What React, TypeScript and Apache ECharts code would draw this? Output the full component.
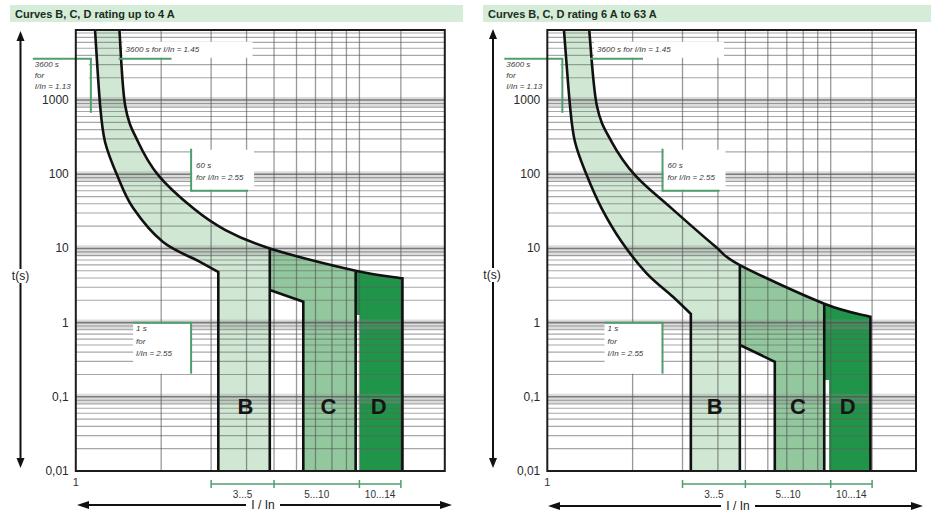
import { useEffect, useRef } from 'react';
import * as echarts from 'echarts';

const X_MIN = 1;
const X_MAX = 20;
const Y_MIN = 0.01;
const Y_MAX = 8800;
const yTickValues = [0.01, 0.1, 1, 10, 100, 1000];
const yTickLabels = ['0,01', '0,1', '1', '10', '100', '1000'];
const xTickLabels = ['1'];
const verticalGridValues = [2, 3, 4, 5, 6, 7, 8, 9, 10, 14];
const decadeValues = [0.01, 0.1, 1, 10, 100, 1000];
const minorSteps = [2, 3, 4, 5, 6, 7, 8, 9];
const regionNames = ['B', 'C', 'D'];
const bracketTicks = [3, 5, 10, 14];
const bracketLabels = ['3...5', '5...10', '10...14'];
const boundaryIndexBC = 6;
const boundaryIndexCD = 7;

// Left panel: rating up to 4 A
const leftTitle = 'Curves B, C, D rating up to 4 A';
const leftLowerCurve = [[1.169, 8800], [1.218, 857], [1.268, 272], [1.398, 97.5], [1.593, 35], [2.03, 12.2], [2.75, 6.56], [3.18, 4.81]];
const leftUpperCurve = [[1.425, 8800], [1.492, 857], [1.659, 272], [1.952, 97.5], [2.59, 35], [3.37, 17.7], [4.83, 10.0], [9.7, 5.0], [14.18, 3.95]];
const leftCNotch = [[4.83, 2.75], [6.34, 1.91]];
const leftDGap = [[9.7, 1.27], [10.04, 1.27]];
const leftLetterPositions = [[3.96, 0.073], [7.78, 0.073], [11.69, 0.073]];

// Right panel: rating 6 A to 63 A
const rightTitle = 'Curves B, C, D rating 6 A to 63 A';
const rightLowerCurve = [[1.145, 8800], [1.202, 857], [1.252, 274], [1.377, 97.5], [1.555, 34.7], [1.829, 12.3], [2.241, 4.62], [2.775, 2.23], [3.21, 1.31]];
const rightUpperCurve = [[1.406, 8800], [1.494, 857], [1.687, 274], [2.038, 97.5], [2.746, 34.7], [3.9, 10.8], [4.78, 5.97], [9.49, 1.8], [13.81, 1.2]];
const rightCNotch = [[4.78, 0.5], [6.35, 0.297]];
const rightDGap = [[9.49, 0.168], [9.87, 0.168]];
const rightLetterPositions = [[3.9, 0.073], [7.66, 0.073], [11.49, 0.073]];

const annotationAnchors = [[1.13, 3600], [1.45, 3600], [2.55, 60], [2.55, 1]];
const annotationTexts = [['3600 s', 'for', 'I/In = 1.13'], ['3600 s for I/In = 1.45'], ['60 s', 'for I/In = 2.55'], ['1 s', 'for', 'I/In = 2.55']];
const annotationLayouts = ['leftBelow1', 'rightAbove', 'rightBox', 'leftBelow2'];

const FONT = '"Liberation Sans", Arial, sans-serif';
const GREEN = '#4f9e6d';
const fillColors = ['#cfe7d3', '#93c89f', '#20954a'];

const panels = [
  { title: leftTitle, lower: leftLowerCurve, upper: leftUpperCurve, notch: leftCNotch, gap: leftDGap, letters: leftLetterPositions, gridLeft: 75.8, gridWidth: 369 },
  { title: rightTitle, lower: rightLowerCurve, upper: rightUpperCurve, notch: rightCNotch, gap: rightDGap, letters: rightLetterPositions, gridLeft: 547.3, gridWidth: 368.7 },
];

function segs(P: number[][]) {
  const out: number[][] = [];
  for (let i = 0; i < P.length - 1; i++) {
    const p0 = P[i - 1] || P[i];
    const p1 = P[i];
    const p2 = P[i + 1];
    const p3 = P[i + 2] || P[i + 1];
    out.push([p1[0] + (p2[0] - p0[0]) / 6, p1[1] + (p2[1] - p0[1]) / 6, p2[0] - (p3[0] - p1[0]) / 6, p2[1] - (p3[1] - p1[1]) / 6]);
  }
  return out;
}
function fwd(P: number[][], S: number[][], a: number, b: number) {
  let d = '';
  for (let i = a; i < b; i++) d += `C${S[i][0]},${S[i][1]} ${S[i][2]},${S[i][3]} ${P[i + 1][0]},${P[i + 1][1]} `;
  return d;
}
function bwd(P: number[][], S: number[][], a: number, b: number) {
  let d = '';
  for (let i = b - 1; i >= a; i--) d += `C${S[i][2]},${S[i][3]} ${S[i][0]},${S[i][1]} ${P[i][0]},${P[i][1]} `;
  return d;
}
const pt = (p: number[]) => `${p[0]},${p[1]}`;

function panelGeometry(api: any, p: any) {
  const L = p.lower.map((q: number[]) => api.coord(q));
  const U = p.upper.map((q: number[]) => api.coord(q));
  const SL = segs(L);
  const SU = segs(U);
  const bottom = api.coord([X_MIN, Y_MIN])[1];
  const N = p.notch.map((q: number[]) => api.coord(q));
  const G = p.gap.map((q: number[]) => api.coord(q));
  return { L, U, SL, SU, bottom, N, G };
}

function regionPath(api: any, p: any, idx: number) {
  const { L, U, SL, SU, bottom, N, G } = panelGeometry(api, p);
  const nL = L.length;
  const nU = U.length;
  if (idx === 0) {
    return `M${pt(L[0])} ${fwd(L, SL, 0, nL - 1)}L${L[nL - 1][0]},${bottom} L${U[boundaryIndexBC][0]},${bottom} L${pt(U[boundaryIndexBC])} ${bwd(U, SU, 0, boundaryIndexBC)}Z`;
  }
  if (idx === 1) {
    return `M${pt(U[boundaryIndexBC])} ${fwd(U, SU, boundaryIndexBC, boundaryIndexCD)}L${U[boundaryIndexCD][0]},${bottom} L${N[1][0]},${bottom} L${pt(N[1])} L${pt(N[0])} Z`;
  }
  return `M${pt(U[boundaryIndexCD])} ${fwd(U, SU, boundaryIndexCD, nU - 1)}L${U[nU - 1][0]},${bottom} L${G[1][0]},${bottom} L${pt(G[1])} L${pt(G[0])} Z`;
}

function outlinePath(api: any, p: any) {
  const { L, U, SL, SU, bottom, N } = panelGeometry(api, p);
  const nL = L.length;
  const nU = U.length;
  let d = `M${pt(L[0])} ${fwd(L, SL, 0, nL - 1)}L${L[nL - 1][0]},${bottom} `;
  d += `M${pt(U[0])} ${fwd(U, SU, 0, nU - 1)}L${U[nU - 1][0]},${bottom} `;
  d += `M${pt(U[boundaryIndexBC])} L${U[boundaryIndexBC][0]},${bottom} `;
  d += `M${pt(N[0])} L${pt(N[1])} L${N[1][0]},${bottom} `;
  d += `M${pt(U[boundaryIndexCD])} L${U[boundaryIndexCD][0]},${bottom}`;
  return d;
}

function txt(s: string, x: number, y: number) {
  return {
    type: 'text', x, y,
    style: { text: s, fill: '#3a3a3a', fontSize: 8, fontStyle: 'italic', fontFamily: FONT, align: 'left', verticalAlign: 'middle' },
  };
}
function gLine(x1: number, y1: number, x2: number, y2: number, color = GREEN, w = 2) {
  return { type: 'line', shape: { x1, y1, x2, y2 }, style: { stroke: color, lineWidth: w } };
}
function wRect(x: number, y: number, width: number, height: number) {
  return { type: 'rect', shape: { x, y, width, height }, style: { fill: '#ffffff' } };
}

function annotationGroup(i: number, px: number, py: number) {
  const lines = annotationTexts[i];
  const kind = annotationLayouts[i];
  const children: any[] = [];
  if (kind === 'leftBelow1') {
    children.push(wRect(px - 58, py + 1, 56, 34));
    children.push(gLine(px - 58, py, px + 1, py));
    children.push(gLine(px, py, px, py + 54));
    lines.forEach((s, k) => children.push(txt(s, px - 56, py + 6 + k * 11)));
  } else if (kind === 'rightAbove') {
    children.push(wRect(px + 1, py - 17, 130, 16));
    children.push(gLine(px - 3, py, px + 50, py));
    children.push(txt(lines[0], px + 4, py - 9));
  } else if (kind === 'rightBox') {
    children.push(wRect(px + 1, py - 41, 62, 40));
    children.push(gLine(px, py - 42, px, py + 1));
    children.push(gLine(px, py, px + 57, py));
    lines.forEach((s, k) => children.push(txt(s, px + 5, py - 25 + k * 12)));
  } else {
    children.push(wRect(px - 58, py + 1, 57, 50));
    children.push(gLine(px - 58, py, px + 1, py));
    children.push(gLine(px, py, px, py + 51));
    lines.forEach((s, k) => children.push(txt(s, px - 55, py + 6 + k * 12.5)));
  }
  return { type: 'group', children };
}

function buildOption() {
  const hLines: number[][] = [];
  decadeValues.forEach((d) => minorSteps.forEach((m) => { if (d * m < Y_MAX) hLines.push([X_MIN, d * m]); }));
  decadeValues.forEach((d) => hLines.push([X_MIN, d]));

  const grid = panels.map((p) => ({ left: p.gridLeft, top: 30, width: p.gridWidth, height: 441, show: false }));
  const xAxis = panels.map((p, i) => ({
    type: 'log', logBase: 10, gridIndex: i, min: X_MIN, max: X_MAX,
    axisLine: { show: false }, axisTick: { show: false }, splitLine: { show: false },
    axisLabel: {
      margin: 5, fontSize: 11, color: '#333', fontFamily: FONT, showMaxLabel: false,
      formatter: (v: number) => (Math.abs(v - 1) < 1e-9 ? xTickLabels[0] : ''),
    },
  }));
  const yAxis = panels.map((p, i) => ({
    type: 'log', logBase: 10, gridIndex: i, min: Y_MIN, max: Y_MAX, splitNumber: 6,
    axisLine: { show: false }, axisTick: { show: false }, splitLine: { show: false },
    axisLabel: {
      margin: 7, fontSize: 12, color: '#2a2a2a', fontFamily: FONT,
      formatter: (v: number) => {
        const k = yTickValues.findIndex((t) => Math.abs(Math.log10(v) - Math.log10(t)) < 1e-6);
        return k >= 0 ? yTickLabels[k] : '';
      },
    },
  }));

  const series: any[] = [];
  panels.forEach((p, gi) => {
    const base = { type: 'custom', xAxisIndex: gi, yAxisIndex: gi, silent: true, clip: false };
    series.push({
      ...base, name: `fills-${gi}`, z: 2,
      data: p.letters,
      renderItem: (params: any, api: any) => ({
        type: 'path', shape: { pathData: regionPath(api, p, params.dataIndex) },
        style: { fill: fillColors[params.dataIndex], stroke: 'none' },
      }),
    });
    series.push({
      ...base, name: `bands-${gi}`, z: 3,
      data: decadeValues.filter((t) => t > Y_MIN).map((t) => [X_MIN, t]),
      renderItem: (params: any, api: any) => {
        const cs = params.coordSys;
        const t = api.value(1);
        const y1 = api.coord([X_MIN, t * 1.1])[1];
        const y2 = api.coord([X_MIN, t * 0.8])[1];
        return { type: 'rect', shape: { x: cs.x, y: y1, width: cs.width, height: y2 - y1 }, style: { fill: 'rgba(140,140,140,0.3)' } };
      },
    });
    series.push({
      ...base, name: `hgrid-${gi}`, z: 3,
      data: hLines,
      renderItem: (params: any, api: any) => {
        const cs = params.coordSys;
        const t = api.value(1);
        const y = api.coord([X_MIN, t])[1];
        const major = decadeValues.some((d) => Math.abs(d - t) < 1e-12);
        return { type: 'line', shape: { x1: cs.x, y1: y, x2: cs.x + cs.width, y2: y }, style: { stroke: major ? 'rgba(80,80,80,0.7)' : 'rgba(95,95,95,0.55)', lineWidth: major ? 1.6 : 1.1 } };
      },
    });
    series.push({
      ...base, name: `vgrid-${gi}`, z: 3,
      data: verticalGridValues.map((x) => [x, Y_MIN]),
      renderItem: (params: any, api: any) => {
        const cs = params.coordSys;
        const x = api.coord([api.value(0), Y_MIN])[0];
        return { type: 'line', shape: { x1: x, y1: cs.y, x2: x, y2: cs.y + cs.height }, style: { stroke: 'rgba(85,85,85,0.6)', lineWidth: 1.3 } };
      },
    });
    series.push({
      ...base, name: `outline-${gi}`, z: 4,
      data: [[X_MIN, Y_MIN]],
      renderItem: (params: any, api: any) => ({
        type: 'path', shape: { pathData: outlinePath(api, p) },
        style: { fill: 'none', stroke: '#111', lineWidth: 2.6, lineJoin: 'miter' },
      }),
    });
    series.push({
      ...base, name: `annotations-${gi}`, z: 5,
      data: annotationAnchors,
      renderItem: (params: any, api: any) => {
        const c = api.coord([api.value(0), api.value(1)]);
        return annotationGroup(params.dataIndex, c[0], c[1]);
      },
    });
    series.push({
      ...base, name: `letters-${gi}`, z: 6,
      data: p.letters,
      renderItem: (params: any, api: any) => {
        const c = api.coord([api.value(0), api.value(1)]);
        return { type: 'text', x: c[0], y: c[1], style: { text: regionNames[params.dataIndex], fill: '#151515', fontSize: 22, fontWeight: 'bold', fontFamily: FONT, align: 'center', verticalAlign: 'middle' } };
      },
    });
    series.push({
      ...base, name: `brackets-${gi}`, z: 5,
      data: bracketTicks.map((x) => [x, Y_MIN]),
      renderItem: (params: any, api: any) => {
        const i = params.dataIndex;
        const c = api.coord([api.value(0), Y_MIN]);
        const y0 = c[1] + 13;
        const children: any[] = [gLine(c[0], y0 - 4, c[0], y0 + 4, GREEN, 1.5)];
        if (i < bracketTicks.length - 1) {
          const nx = api.coord([bracketTicks[i + 1], Y_MIN])[0];
          children.push(gLine(c[0], y0, nx, y0, GREEN, 1.5));
          children.push({ type: 'text', x: (c[0] + nx) / 2, y: y0 + 10, style: { text: bracketLabels[i], fill: '#333', fontSize: 10, fontFamily: FONT, align: 'center', verticalAlign: 'middle' } });
        }
        return { type: 'group', children };
      },
    });
    series.push({
      ...base, name: `frame-${gi}`, z: 7,
      data: [[X_MIN, Y_MIN]],
      renderItem: (params: any) => {
        const cs = params.coordSys;
        return { type: 'rect', shape: { x: cs.x, y: cs.y, width: cs.width, height: cs.height }, style: { fill: 'none', stroke: '#1c1c1c', lineWidth: 2 } };
      },
    });
  });

  const arrowV = (x: number, top: number, bot: number) => [
    { type: 'line', shape: { x1: x, y1: top + 8, x2: x, y2: bot - 8 }, style: { stroke: '#111', lineWidth: 2 } },
    { type: 'polygon', shape: { points: [[x, top], [x - 4, top + 10], [x + 4, top + 10]] }, style: { fill: '#111' } },
    { type: 'polygon', shape: { points: [[x, bot], [x - 4, bot - 10], [x + 4, bot - 10]] }, style: { fill: '#111' } },
  ];
  const arrowH = (y: number, l: number, r: number) => [
    { type: 'line', shape: { x1: l + 8, y1: y, x2: r - 8, y2: y }, style: { stroke: '#111', lineWidth: 2 } },
    { type: 'polygon', shape: { points: [[l, y], [l + 12, y - 4], [l + 12, y + 4]] }, style: { fill: '#111' } },
    { type: 'polygon', shape: { points: [[r, y], [r - 12, y - 4], [r - 12, y + 4]] }, style: { fill: '#111' } },
  ];
  const label = (s: string, x: number, y: number, w: number) => [
    { type: 'rect', shape: { x: x - w / 2, y: y - 7, width: w, height: 14 }, style: { fill: '#fff' } },
    { type: 'text', x, y, style: { text: s, fill: '#222', fontSize: 12, fontFamily: FONT, align: 'center', verticalAlign: 'middle', textAlign: 'center', textVerticalAlign: 'middle' } },
  ];
  const titleBar = (x: number, w: number, s: string) => [
    { type: 'rect', shape: { x, y: 5, width: w, height: 17 }, style: { fill: '#d4ecd8' } },
    { type: 'text', x: x + 5, y: 13.5, style: { text: s, fill: '#1d2b21', fontSize: 11, fontWeight: 'bold', fontFamily: FONT, align: 'left', verticalAlign: 'middle', textVerticalAlign: 'middle' } },
  ];

  const graphic = [
    ...titleBar(10, 453, leftTitle),
    ...titleBar(483, 448, rightTitle),
    ...arrowV(20.5, 31, 468),
    ...arrowV(493, 29, 468),
    ...arrowH(505, 77, 452),
    ...arrowH(506, 548, 923),
    ...label('t(s)', 20.5, 276, 22),
    ...label('t(s)', 492, 275, 22),
    ...label('I / In', 263, 505, 34),
    ...label('I / In', 738, 506, 34),
  ].map((g: any) => ({ ...g, silent: true }));

  return { animation: false, backgroundColor: '#fff', grid, xAxis, yAxis, series, graphic };
}

export default function App() {
  const ref = useRef<HTMLDivElement>(null);
  useEffect(() => {
    const chart = echarts.init(ref.current as HTMLDivElement, null, { renderer: 'svg' });
    chart.setOption(buildOption() as any);
    return () => chart.dispose();
  }, []);
  return <div ref={ref} style={{ position: 'fixed', left: 0, top: 0, width: 931, height: 516, background: '#fff' }} />;
}
